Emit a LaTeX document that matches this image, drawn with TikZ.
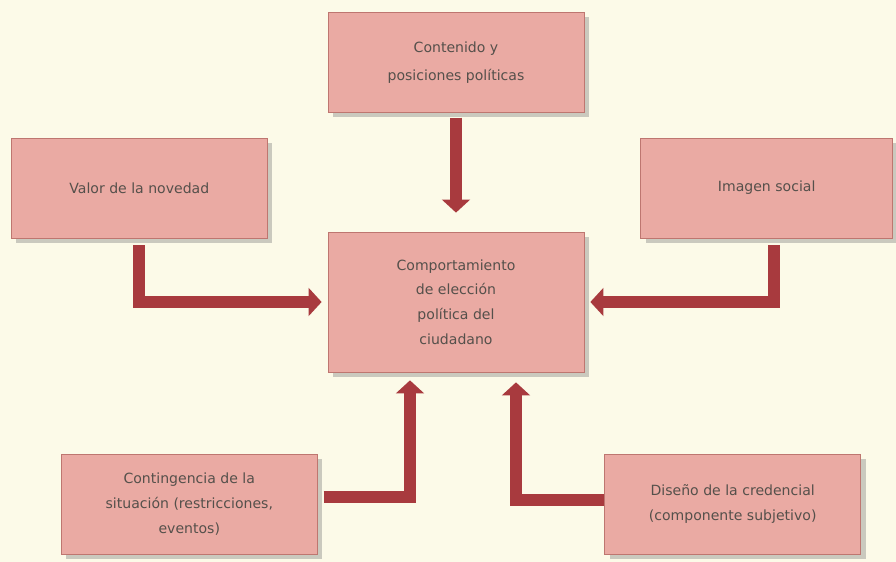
\documentclass[tikz,border=0pt]{standalone}
\usepackage{fontspec}
\setmainfont{DejaVu Sans}
\usetikzlibrary{positioning,shadows,arrows.meta}
\definecolor{fondo}{RGB}{252,250,232}
\definecolor{caja}{RGB}{234,170,163}
\definecolor{borde}{RGB}{190,118,112}
\definecolor{flecha}{RGB}{168,58,62}
\definecolor{texto}{RGB}{85,80,75}
\begin{document}
\begin{tikzpicture}[main/.style = {draw=borde, fill=caja, minimum width=5.12cm, minimum height=2cm, align=center, text=texto, font=\fontsize{8}{14}\selectfont, drop shadow={shadow xshift=0.1cm, shadow yshift=-0.1cm, opacity=0.4}}, arr/.style = {draw=flecha, line width=0.24cm, line join=miter, -{Triangle[width=0.55cm, length=0.26cm]}}]
\fill[fondo] (-9.12,-5.2) rectangle (8.8,6.04);
\node[main, minimum height=2.8cm] (1) at (0,0) {Comportamiento\\de elección\\política del\\ciudadano};
\node[main, font=\fontsize{8}{16}\selectfont] (2) [above=2.38cm of 1] {Contenido y\\posiciones políticas};
\node[main] (3) [left=1.2cm of 1, yshift=2.28cm] {Valor de la novedad};
\node[main, minimum width=5.04cm] (4) [right=1.12cm of 1, yshift=2.28cm] {Imagen social};
\node[main] (5) [left=0.2cm of 1, yshift=-4.04cm] {Contingencia de la\\situación (restricciones,\\eventos)};
\node[main] (6) [right=0.4cm of 1, yshift=-4.04cm] {Diseño de la credencial\\(componente subjetivo)};

\draw[arr, shorten <=0.1cm, shorten >=0.38cm] (2) -- (1);
\draw[arr, shorten <=0.14cm, shorten >=0.12cm] (3.south) |- (1.west);
\draw[arr, shorten <=0.14cm, shorten >=0.12cm] ([xshift=0.14cm]4.south) |- (1.east);
\draw[arr, shorten <=0.12cm, shorten >=0.16cm] ([yshift=0.14cm]5.east) -| ([xshift=-0.92cm]1.south);
\draw[arr, shorten >=0.2cm] ([yshift=0.08cm]6.west) -| ([xshift=1.2cm]1.south);
\end{tikzpicture}
\end{document}
